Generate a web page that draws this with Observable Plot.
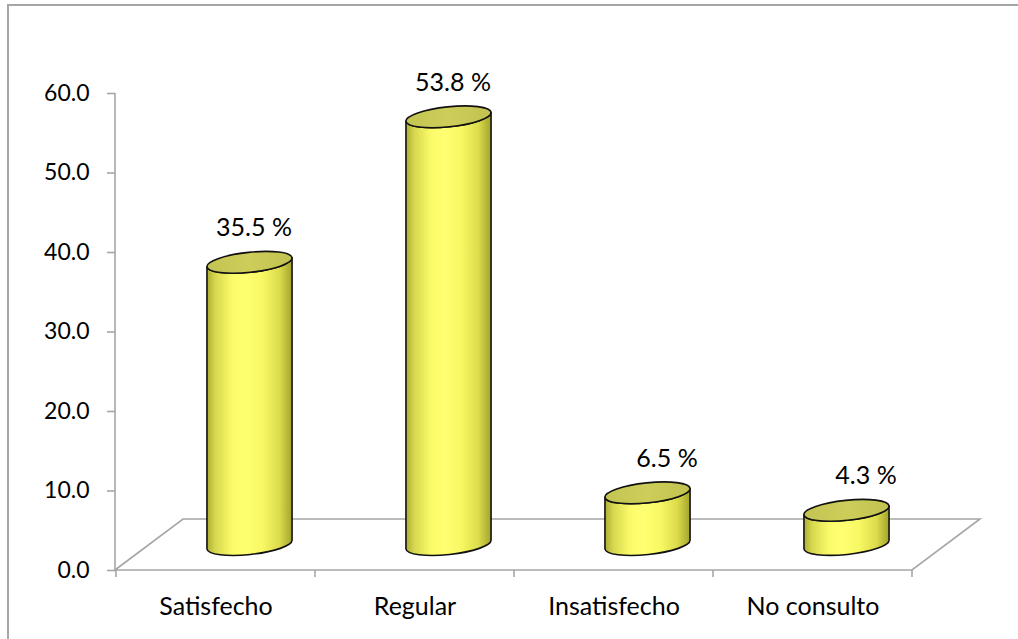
<!DOCTYPE html>
<html>
<head>
<meta charset="utf-8">
<script src="https://cdn.jsdelivr.net/npm/d3@7"></script>
<script src="https://cdn.jsdelivr.net/npm/@observablehq/plot@0.6"></script>
<style>
  html, body { margin: 0; padding: 0; background: #fff; }
  #chart { position: relative; width: 1018px; height: 639px; overflow: hidden; }
  #chart .border {
    position: absolute; left: 7px; top: 4px; right: -10px; bottom: -10px;
    border-left: 2px solid #a6a6a6; border-top: 2px solid #a6a6a6;
    pointer-events: none;
  }
  #chart svg { position: absolute; left: 0; top: 0; }
</style>
</head>
<body>
<div id="chart"><div class="border"></div></div>
<script>
// Survey results: satisfaction with the consultation (percent of respondents)
const categories = ["Satisfecho", "Regular", "Insatisfecho", "No consulto"];
const percentages = [35.5, 53.8, 6.5, 4.3];
const yTicks = [0, 10, 20, 30, 40, 50, 60];

const data = categories.map((category, i) => ({category, value: percentages[i]}));

// 3-D look: floor depth offset and cylinder shape
const DEPTH_X = 68, DEPTH_Y = 51;
const AXIS_GRAY = "#a6a6a6";
const TILT = -6;           // degrees, ellipse rotation
const RADIUS_FRAC = 0.215; // cylinder radius as a share of the band width
const RY = 10;             // ellipse half-height (px)

// Floor parallelogram, value axis line and category tick marks
function floor(index, {x, y}) {
  const [x0, x1] = x.range();
  const y0 = y(0), yTop = y(d3.max(yTicks));
  const g = d3.create("svg:g")
    .attr("fill", "none")
    .attr("stroke", AXIS_GRAY)
    .attr("stroke-width", 1.6);
  g.append("path")
    .attr("d", `M${x0},${y0}L${x0 + DEPTH_X},${y0 - DEPTH_Y}H${x1 + DEPTH_X}L${x1},${y0}Z`);
  g.append("path").attr("d", `M${x0},${yTop}V${y0}`);
  const bounds = x.domain().map(d => x(d)).concat([x1]);
  g.selectAll("line.tick").data(bounds).join("line")
    .attr("x1", d => d).attr("x2", d => d)
    .attr("y1", y0).attr("y2", y0 + 7);
  return g.node();
}

// Yellow cylinders standing on the middle of the floor
function cylinders(index, {x, y}) {
  const bw = x.bandwidth();
  const rx = bw * RADIUS_FRAC;
  const t = TILT * Math.PI / 180;
  const ax = rx * Math.cos(t), ay = rx * Math.sin(t);
  const g = d3.create("svg:g");
  const grad = g.append("defs").append("linearGradient")
    .attr("id", "cyl-body").attr("x1", 0).attr("x2", 1).attr("y1", 0).attr("y2", 0);
  [[0, "#adad34"], [0.1, "#d8d850"], [0.3, "#fbfb6a"], [0.45, "#ffff72"],
   [0.65, "#f8f864"], [0.85, "#dcdc4c"], [1, "#a3a32c"]]
    .forEach(([o, c]) => grad.append("stop").attr("offset", o).attr("stop-color", c));
  const top = g.append("defs").append("linearGradient")
    .attr("id", "cyl-top").attr("x1", 0).attr("x2", 1).attr("y1", 0).attr("y2", 0);
  [[0, "#c4c453"], [0.5, "#cdcd5a"], [1, "#c2c250"]]
    .forEach(([o, c]) => top.append("stop").attr("offset", o).attr("stop-color", c));

  for (const d of data) {
    const cx = x(d.category) + bw / 2 + DEPTH_X / 2;
    const yb = y(0) - DEPTH_Y / 2;
    const yt = y(d.value) - DEPTH_Y / 2;
    const L = (cy) => `${cx - ax},${cy - ay}`;
    const R = (cy) => `${cx + ax},${cy + ay}`;
    const arc = `${rx},${RY} ${TILT}`;
    g.append("path")
      .attr("d", `M${L(yt)}L${L(yb)}A${arc} 0 0 ${R(yb)}L${R(yt)}A${arc} 0 1 ${L(yt)}Z`)
      .attr("fill", "url(#cyl-body)")
      .attr("stroke", "#111").attr("stroke-width", 1.6).attr("stroke-linejoin", "round");
    g.append("ellipse")
      .attr("cx", cx).attr("cy", yt).attr("rx", rx).attr("ry", RY)
      .attr("transform", `rotate(${TILT},${cx},${yt})`)
      .attr("fill", "url(#cyl-top)")
      .attr("stroke", "#111").attr("stroke-width", 1.6);
  }
  return g.node();
}

const labelText = d => `${d.value.toFixed(1)} %`;

const chart = Plot.plot({
  width: 1018,
  height: 639,
  marginLeft: 115,
  marginRight: 106,
  marginTop: 93,
  marginBottom: 69,
  style: {fontFamily: "Lato, sans-serif", fontSize: "24px", background: "transparent", color: "#000"},
  x: {type: "band", domain: categories, padding: 0, label: null},
  y: {domain: [0, 60], label: null},
  marks: [
    floor,
    cylinders,
    Plot.text(data, {
      filter: d => d.value >= 10,
      x: "category", y: "value", text: labelText,
      dx: DEPTH_X / 2 + 4, dy: -60, fontSize: 25, fill: "#000"
    }),
    Plot.text(data, {
      filter: d => d.value < 10,
      x: "category", y: "value", text: labelText,
      dx: DEPTH_X / 2 + 19, dy: -60, fontSize: 25, fill: "#000"
    }),
    Plot.axisY({
      ticks: yTicks, tickFormat: d => d.toFixed(1),
      tickSize: 8, tickPadding: 18, stroke: AXIS_GRAY, strokeWidth: 1.6,
      fontSize: 23, label: null
    }),
    Plot.axisX({tickSize: 0, tickPadding: 27, fontSize: 25, label: null})
  ]
});

document.getElementById("chart").appendChild(chart);
</script>
</body>
</html>
